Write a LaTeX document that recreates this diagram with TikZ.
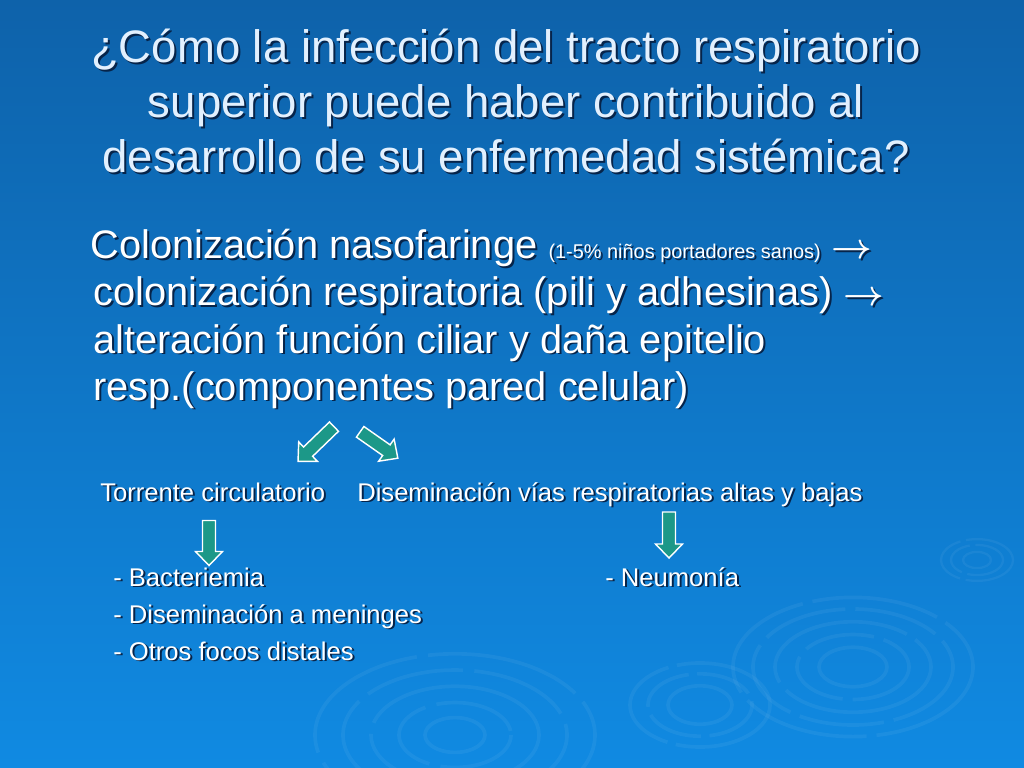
\documentclass[tikz,border=0pt]{standalone}
\usepackage{amsmath}
\usepackage{fontspec}
\setmainfont{Liberation Sans}
\usetikzlibrary{positioning}

\definecolor{slidetop}{RGB}{14,98,170}
\definecolor{slidebot}{RGB}{16,138,226}
\definecolor{titlefg}{RGB}{226,240,254}
\definecolor{shadowfg}{RGB}{6,36,74}
\definecolor{arrowfill}{RGB}{28,152,136}

\tikzset{
  titleline/.style={inner sep=0pt, anchor=base, text=titlefg, font=\fontsize{32}{38}\selectfont},
  bodyline/.style={inner sep=0pt, anchor=base west, text=white, font=\fontsize{28}{34}\selectfont},
  subline/.style={inner sep=0pt, anchor=base west, text=white, font=\fontsize{18}{22}\selectfont},
  blockarr/.style={draw=white, line width=1pt, fill=arrowfill, line join=miter},
  ripple/.style={white, opacity=0.05, line width=2.6pt}
}

% text with a dark drop shadow: name, style, position, text
\newcommand{\shtext}[4]{%
  \node[#2, text=shadowfg, xshift=1.4pt, yshift=-1.4pt] at (#3) {#4};
  \node[#2] (#1) at (#3) {#4};}

% block arrow: centre, angle, length
\newcommand{\blockarrow}[3]{%
  \draw[blockarr, shift={(#1)}, rotate=#2] (-#3/2,-6.5) -- (#3/2-14,-6.5) -- (#3/2-14,-13.5)
    -- (#3/2,0) -- (#3/2-14,13.5) -- (#3/2-14,6.5) -- (-#3/2,6.5) -- cycle;}

\newcommand{\thenarrow}{$\boldsymbol{\rightarrow}$}

\begin{document}
\begin{tikzpicture}[x=0.703125pt, y=-0.703125pt]
  % background
  \shade[top color=slidetop, bottom color=slidebot] (0,0) rectangle (1024,768);
  \useasboundingbox (0,0) rectangle (1024,768);

  % ripples
  \foreach \r/\d in {120/90, 100/60, 78/120, 56/50, 34/200}
    \draw[ripple, dash pattern=on \d pt off 7pt] (853,667) ellipse [x radius=\r, y radius=0.58*\r];
  \foreach \r/\d in {70/80, 52/40, 32/120}
    \draw[ripple, dash pattern=on \d pt off 6pt] (700,705) ellipse [x radius=\r, y radius=0.6*\r];
  \foreach \r/\d in {140/110, 112/70, 84/150, 56/60, 30/200}
    \draw[ripple, dash pattern=on \d pt off 8pt] (455,735) ellipse [x radius=\r, y radius=0.58*\r];
  \foreach \r/\d in {36/40, 26/30, 14/90}
    \draw[ripple, line width=1.6pt, dash pattern=on \d pt off 4pt] (977,560) ellipse [x radius=\r, y radius=0.58*\r];

  % title
  \shtext{title1}{titleline}{506,63}{¿Cómo la infección del tracto respiratorio}
  \shtext{title2}{titleline}{506,118}{superior puede haber contribuido al}
  \shtext{title3}{titleline}{506,173}{desarrollo de su enfermedad sistémica?}

  % body
  \shtext{body1}{bodyline}{90,259}{Colonización nasofaringe {\fontsize{14}{16}\selectfont (1-5\% niños portadores sanos)} \thenarrow}
  \shtext{body2}{bodyline}{93,306}{colonización respiratoria (pili y adhesinas) \thenarrow}
  \shtext{body3}{bodyline}{93,353}{alteración función ciliar y daña epitelio}
  \shtext{body4}{bodyline}{93,400}{resp.(componentes pared celular)}

  % branches
  \blockarrow{316,444}{224}{50}
  \blockarrow{379,445}{-35}{46}
  \shtext{blood}{subline}{100,501}{Torrente circulatorio}
  \shtext{airway}{subline}{357,501}{Diseminación vías respiratorias altas y bajas}
  \blockarrow{209,543}{-90}{45}
  \blockarrow{669,535}{-90}{46}

  % outcomes
  \shtext{bact}{subline}{113,586}{- Bacteriemia}
  \shtext{menin}{subline}{113,623}{- Diseminación a meninges}
  \shtext{focos}{subline}{113,660}{- Otros focos distales}
  \shtext{neumo}{subline}{605,586}{- Neumonía}
\end{tikzpicture}
\end{document}
